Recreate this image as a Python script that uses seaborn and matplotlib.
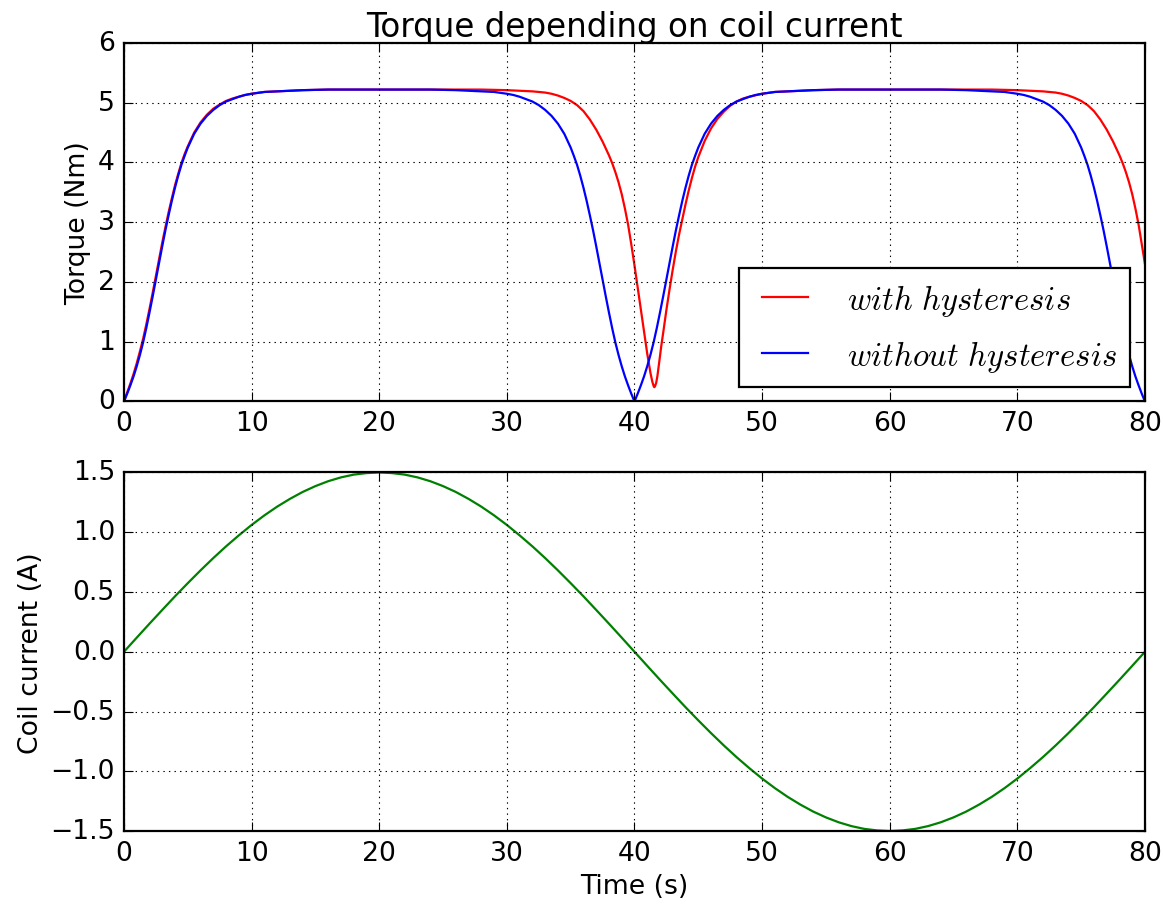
import matplotlib
matplotlib.use('Agg')
import matplotlib.pyplot as plt
import seaborn as sns

# torque without hysteresis (Nm)
blue_time = [0, 0.25, 0.5, 0.75, 1, 1.25, 1.5, 1.75, 2, 2.25, 2.5, 2.75, 3, 3.25, 3.5, 3.75, 4, 4.25, 4.5, 4.75, 5,
             5.5, 6, 6.5, 7, 7.5, 8, 8.5, 9, 9.5, 10, 11, 12, 13, 14, 16, 18, 20,
             22, 24, 26, 27, 28, 29, 30, 30.5, 31, 31.5, 32, 32.5, 33, 33.5, 34, 34.5, 35,
             35.25, 35.5, 35.75, 36, 36.25, 36.5, 36.75, 37, 37.25, 37.5, 37.75, 38, 38.25, 38.5, 38.75, 39, 39.25, 39.5, 39.75, 40,
             40.25, 40.5, 40.75, 41, 41.25, 41.5, 41.75, 42, 42.25, 42.5, 42.75, 43, 43.25, 43.5, 43.75, 44, 44.25, 44.5, 44.75, 45,
             45.5, 46, 46.5, 47, 47.5, 48, 48.5, 49, 49.5, 50, 51, 52, 53, 54, 56, 58, 60,
             62, 64, 66, 67, 68, 69, 70, 70.5, 71, 71.5, 72, 72.5, 73, 73.5, 74, 74.5, 75,
             75.25, 75.5, 75.75, 76, 76.25, 76.5, 76.75, 77, 77.25, 77.5, 77.75, 78, 78.25, 78.5, 78.75, 79, 79.25, 79.5, 79.75, 80]
blue_torque = [0, 0.13, 0.27, 0.42, 0.59, 0.78, 0.99, 1.23, 1.49, 1.76, 2.04, 2.32, 2.60, 2.87, 3.12, 3.36, 3.58, 3.78, 3.96, 4.11, 4.25,
               4.48, 4.65, 4.78, 4.88, 4.96, 5.02, 5.06, 5.10, 5.13, 5.15, 5.18, 5.19, 5.20, 5.21, 5.22, 5.22, 5.22,
               5.22, 5.22, 5.21, 5.20, 5.19, 5.18, 5.15, 5.13, 5.10, 5.06, 5.02, 4.96, 4.88, 4.78, 4.65, 4.48, 4.25,
               4.11, 3.96, 3.78, 3.58, 3.36, 3.12, 2.87, 2.60, 2.32, 2.04, 1.76, 1.49, 1.23, 0.99, 0.78, 0.59, 0.42, 0.27, 0.13, 0,
               0.13, 0.27, 0.42, 0.59, 0.78, 0.99, 1.23, 1.49, 1.76, 2.04, 2.32, 2.60, 2.87, 3.12, 3.36, 3.58, 3.78, 3.96, 4.11, 4.25,
               4.48, 4.65, 4.78, 4.88, 4.96, 5.02, 5.06, 5.10, 5.13, 5.15, 5.18, 5.19, 5.20, 5.21, 5.22, 5.22, 5.22,
               5.22, 5.22, 5.21, 5.20, 5.19, 5.18, 5.15, 5.13, 5.10, 5.06, 5.02, 4.96, 4.88, 4.78, 4.65, 4.48, 4.25,
               4.11, 3.96, 3.78, 3.58, 3.36, 3.12, 2.87, 2.60, 2.32, 2.04, 1.76, 1.49, 1.23, 0.99, 0.78, 0.59, 0.42, 0.27, 0.13, 0]

# torque with hysteresis (Nm)
red_time = [0, 0.25, 0.5, 0.75, 1, 1.25, 1.5, 1.75, 2, 2.25, 2.5, 2.75, 3, 3.25, 3.5, 3.75, 4, 4.25, 4.5, 4.75, 5,
            5.5, 6, 6.5, 7, 7.5, 8, 8.5, 9, 9.5, 10,
            11, 12, 13, 14, 16, 18, 20, 22, 24, 26, 28,
            30, 31, 32, 33, 33.5, 34, 34.5, 35,
            35.5, 36, 36.5, 37, 37.5, 38,
            38.25, 38.5, 38.75, 39, 39.25, 39.5, 39.75, 40,
            40.25, 40.5, 40.75, 41, 41.25,
            41.4, 41.5, 41.55, 41.6, 41.7, 41.8, 41.9, 42, 42.1,
            42.25, 42.5, 42.75, 43, 43.25, 43.5, 43.75, 44, 44.25, 44.5, 44.75, 45,
            45.5, 46, 46.5, 47, 47.5, 48, 48.5, 49,
            50, 51, 52, 54, 56, 58, 60, 62, 64, 66, 68,
            70, 71, 72, 73, 73.5, 74, 74.5, 75,
            75.5, 76, 76.5, 77, 77.5, 78,
            78.25, 78.5, 78.75, 79, 79.25, 79.5, 79.75, 80]
red_torque = [0, 0.15, 0.30, 0.46, 0.64, 0.84, 1.05, 1.29, 1.55, 1.82, 2.10, 2.38, 2.66, 2.92, 3.17, 3.40, 3.62, 3.81, 3.99, 4.14, 4.27,
              4.50, 4.67, 4.80, 4.90, 4.97, 5.03, 5.07, 5.10, 5.13, 5.15,
              5.18, 5.19, 5.20, 5.21, 5.22, 5.22, 5.22, 5.22, 5.22, 5.22, 5.22,
              5.21, 5.20, 5.19, 5.17, 5.15, 5.12, 5.08, 5.03,
              4.96, 4.86, 4.72, 4.55, 4.35, 4.12,
              3.99, 3.84, 3.67, 3.47, 3.23, 2.96, 2.63, 2.28,
              1.91, 1.53, 1.16, 0.80, 0.48,
              0.33, 0.26, 0.24, 0.25, 0.31, 0.43, 0.59, 0.76, 0.93,
              1.15, 1.53, 1.88, 2.21, 2.52, 2.80, 3.05, 3.30, 3.53, 3.74, 3.93, 4.09,
              4.36, 4.57, 4.73, 4.85, 4.95, 5.02, 5.07, 5.10,
              5.15, 5.18, 5.19, 5.21, 5.22, 5.22, 5.22, 5.22, 5.22, 5.22, 5.22,
              5.21, 5.20, 5.19, 5.17, 5.15, 5.12, 5.08, 5.03,
              4.96, 4.86, 4.72, 4.55, 4.35, 4.12,
              3.99, 3.84, 3.67, 3.47, 3.23, 2.96, 2.63, 2.30]

# coil current (A), one reading per second
current_time = list(range(0, 81))
current = [0, 0.118, 0.235, 0.350, 0.464, 0.574, 0.681, 0.784, 0.882, 0.974,
           1.061, 1.141, 1.214, 1.279, 1.337, 1.386, 1.427, 1.459, 1.482, 1.495,
           1.5, 1.495, 1.482, 1.459, 1.427, 1.386, 1.337, 1.279, 1.214, 1.141,
           1.061, 0.974, 0.882, 0.784, 0.681, 0.574, 0.464, 0.350, 0.235, 0.118,
           0, -0.118, -0.235, -0.350, -0.464, -0.574, -0.681, -0.784, -0.882, -0.974,
           -1.061, -1.141, -1.214, -1.279, -1.337, -1.386, -1.427, -1.459, -1.482, -1.495,
           -1.5, -1.495, -1.482, -1.459, -1.427, -1.386, -1.337, -1.279, -1.214, -1.141,
           -1.061, -0.974, -0.882, -0.784, -0.681, -0.574, -0.464, -0.350, -0.235, -0.118, 0]

plt.style.use('classic')
s = 1.6
plt.rcParams.update({
    'font.size': 12 * s,
    'figure.facecolor': 'white',
    'savefig.facecolor': 'white',
    'axes.linewidth': 1.0 * s,
    'lines.linewidth': 1.0 * s,
    'patch.linewidth': 1.0 * s,
    'grid.linewidth': 0.5 * s,
    'xtick.major.size': 4 * s,
    'ytick.major.size': 4 * s,
    'xtick.major.width': 0.5 * s,
    'ytick.major.width': 0.5 * s,
    'xtick.major.pad': 4 * s,
    'ytick.major.pad': 4 * s,
})

fig, (ax1, ax2) = plt.subplots(2, 1, figsize=(11.63, 9.12), dpi=100)
fig.subplots_adjust(left=0.1066, right=0.9845, top=0.9518, bottom=0.0877, hspace=0.198)

sns.lineplot(x=red_time, y=red_torque, ax=ax1, color='r', label=r'$with\ hysteresis$')
sns.lineplot(x=blue_time, y=blue_torque, ax=ax1, color='b', label=r'$without\ hysteresis$')
ax1.set_xlim(0, 80)
ax1.set_ylim(0, 6)
ax1.set_xticks(range(0, 81, 10))
ax1.set_yticks(range(0, 7))
ax1.set_ylabel('Torque (Nm)')
ax1.set_title('Torque depending on coil current', fontsize=14.4 * s * 1.02)
ax1.grid(True)
ax1.legend(loc='lower right', fontsize=23.5, labelspacing=0.62, handletextpad=0.9,
           borderaxespad=0.45)

sns.lineplot(x=current_time, y=current, ax=ax2, color='g')
ax2.set_xlim(0, 80)
ax2.set_ylim(-1.5, 1.5)
ax2.set_xticks(range(0, 81, 10))
ax2.set_yticks([-1.5, -1.0, -0.5, 0.0, 0.5, 1.0, 1.5])
ax2.set_xlabel('Time (s)')
ax2.set_ylabel('Coil current (A)')
ax2.grid(True)

fig.savefig('out.png', dpi=100)
